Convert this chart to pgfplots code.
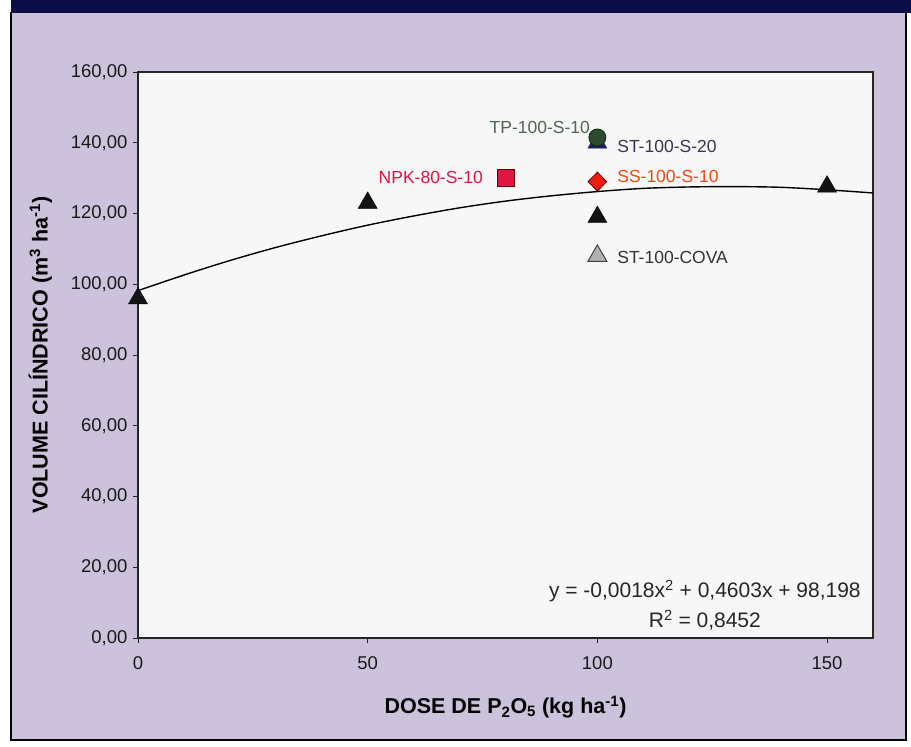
\documentclass[border=0pt]{standalone}
\usepackage{fontspec}
\setmainfont{Liberation Sans}
\usepackage{pgfplots}
\pgfplotsset{compat=1.18}
\definecolor{lav}{RGB}{204,194,220}
\definecolor{navyband}{RGB}{12,12,72}
\definecolor{plotbg}{RGB}{247,247,247}
\definecolor{tpgreen}{RGB}{46,74,48}
\definecolor{tptext}{RGB}{84,100,84}
\definecolor{stnavy}{RGB}{30,30,100}
\definecolor{sttext}{RGB}{60,52,82}
\definecolor{npk}{RGB}{222,20,66}
\definecolor{sstext}{RGB}{240,74,16}
\definecolor{ssred}{RGB}{238,28,16}
\begin{document}
\begin{tikzpicture}[x=1pt,y=1pt]
\useasboundingbox (0,0) rectangle (911,747);
\fill[white] (0,0) rectangle (911,747);
\fill[lav] (11,7) rectangle (906,735);
\fill[navyband] (11,734) rectangle (911,747);
\draw[black, line width=2.2pt] (11,735) -- (11,7) -- (906,7) -- (906,735);
\begin{axis}[
  at={(138pt,109pt)}, anchor=south west,
  scale only axis, width=735pt, height=566pt,
  xmin=0, xmax=160, ymin=0, ymax=160,
  xtick={0,50,100,150}, ytick={0,20,...,160},
  tick pos=left, tick align=outside, major tick length=5pt,
  axis background/.style={fill=plotbg},
  axis line style={line width=1.3pt, black!85},
  tick style={black!85, line width=0.9pt},
  /pgf/number format/assume math mode=true,
  ticklabel style={font=\fontsize{18.5}{20}\selectfont, text=black!90},
  yticklabel style={xshift=-2pt, /pgf/number format/.cd, fixed, fixed zerofill, precision=2, use comma, 1000 sep={}},
  xticklabel style={yshift=-10pt, /pgf/number format/.cd, fixed, precision=0, 1000 sep={}},
  label style={font=\bfseries\fontsize{21.5}{23}\selectfont},
  xlabel={DOSE DE P\textsubscript{2}O\textsubscript{5} (kg ha\textsuperscript{-1})},
  ylabel={VOLUME CILÍNDRICO (m\textsuperscript{3} ha\textsuperscript{-1})},
  xlabel style={at={(axis description cs:0.5,-0.122)}, anchor=center},
  ylabel style={at={(axis description cs:-0.133,0.5)}, anchor=center},
  clip=false,
]
% trend line
\addplot[black, line width=1.4pt, smooth, no marks] coordinates {
(0,98.2) (10,102.6) (20,106.7) (30,110.4) (40,113.7) (50,116.7) (60,119.3)
(70,121.6) (80,123.5) (90,125.0) (100,126.2) (110,127.1) (120,127.5)
(130,127.6) (140,127.4) (150,126.7) (160,125.8)};
% black triangles
\addplot[only marks, mark=triangle*, mark size=11pt, mark options={fill=black!92, draw=black}] coordinates {
(0,96) (50,123) (100,119) (150,127.6)};
% ST-100-COVA
\addplot[only marks, mark=triangle*, mark size=11pt, mark options={fill=black!30, draw=black!75, line width=1pt}] coordinates {(100,108)};
% ST-100-S-20
\addplot[only marks, mark=triangle*, mark size=11pt, mark options={fill=stnavy, draw=stnavy}] coordinates {(100,140)};
% TP-100-S-10
\addplot[only marks, mark=*, mark size=8.5pt, mark options={fill=tpgreen, draw=black!80!green, line width=0.8pt}] coordinates {(100,141.5)};
% NPK-80-S-10
\addplot[only marks, mark=square*, mark size=8.5pt, mark options={fill=npk, draw=black!60!red, line width=0.8pt}] coordinates {(80,130)};
% SS-100-S-10
\addplot[only marks, mark=diamond*, mark size=9.5pt, mark options={xscale=1.3, fill=ssred, draw=black!60!red, line width=0.8pt}] coordinates {(100,129)};
% labels
\node[anchor=east, inner sep=0pt, text=tptext, font=\fontsize{17.5}{20}\selectfont] at (axis cs:98.4,144.2) {TP-100-S-10};
\node[anchor=west, inner sep=0pt, text=sttext, font=\fontsize{17.5}{20}\selectfont] at (axis cs:104.3,139.0) {ST-100-S-20};
\node[anchor=east, inner sep=0pt, text=npk, font=\fontsize{17.5}{20}\selectfont] at (axis cs:75.1,130.3) {NPK-80-S-10};
\node[anchor=west, inner sep=0pt, text=sstext, font=\fontsize{17.5}{20}\selectfont] at (axis cs:104.3,130.5) {SS-100-S-10};
\node[anchor=west, inner sep=0pt, text=black!80, font=\fontsize{17.5}{20}\selectfont] at (axis cs:104.3,107.7) {ST-100-COVA};
\node[align=center, inner sep=0pt, text=black!85, font=\fontsize{21}{30}\selectfont] at (axis cs:123.4,9.3) {y = -0,0018x\textsuperscript{2} + 0,4603x + 98,198\\R\textsuperscript{2} = 0,8452};
\end{axis}
\end{tikzpicture}
\end{document}
